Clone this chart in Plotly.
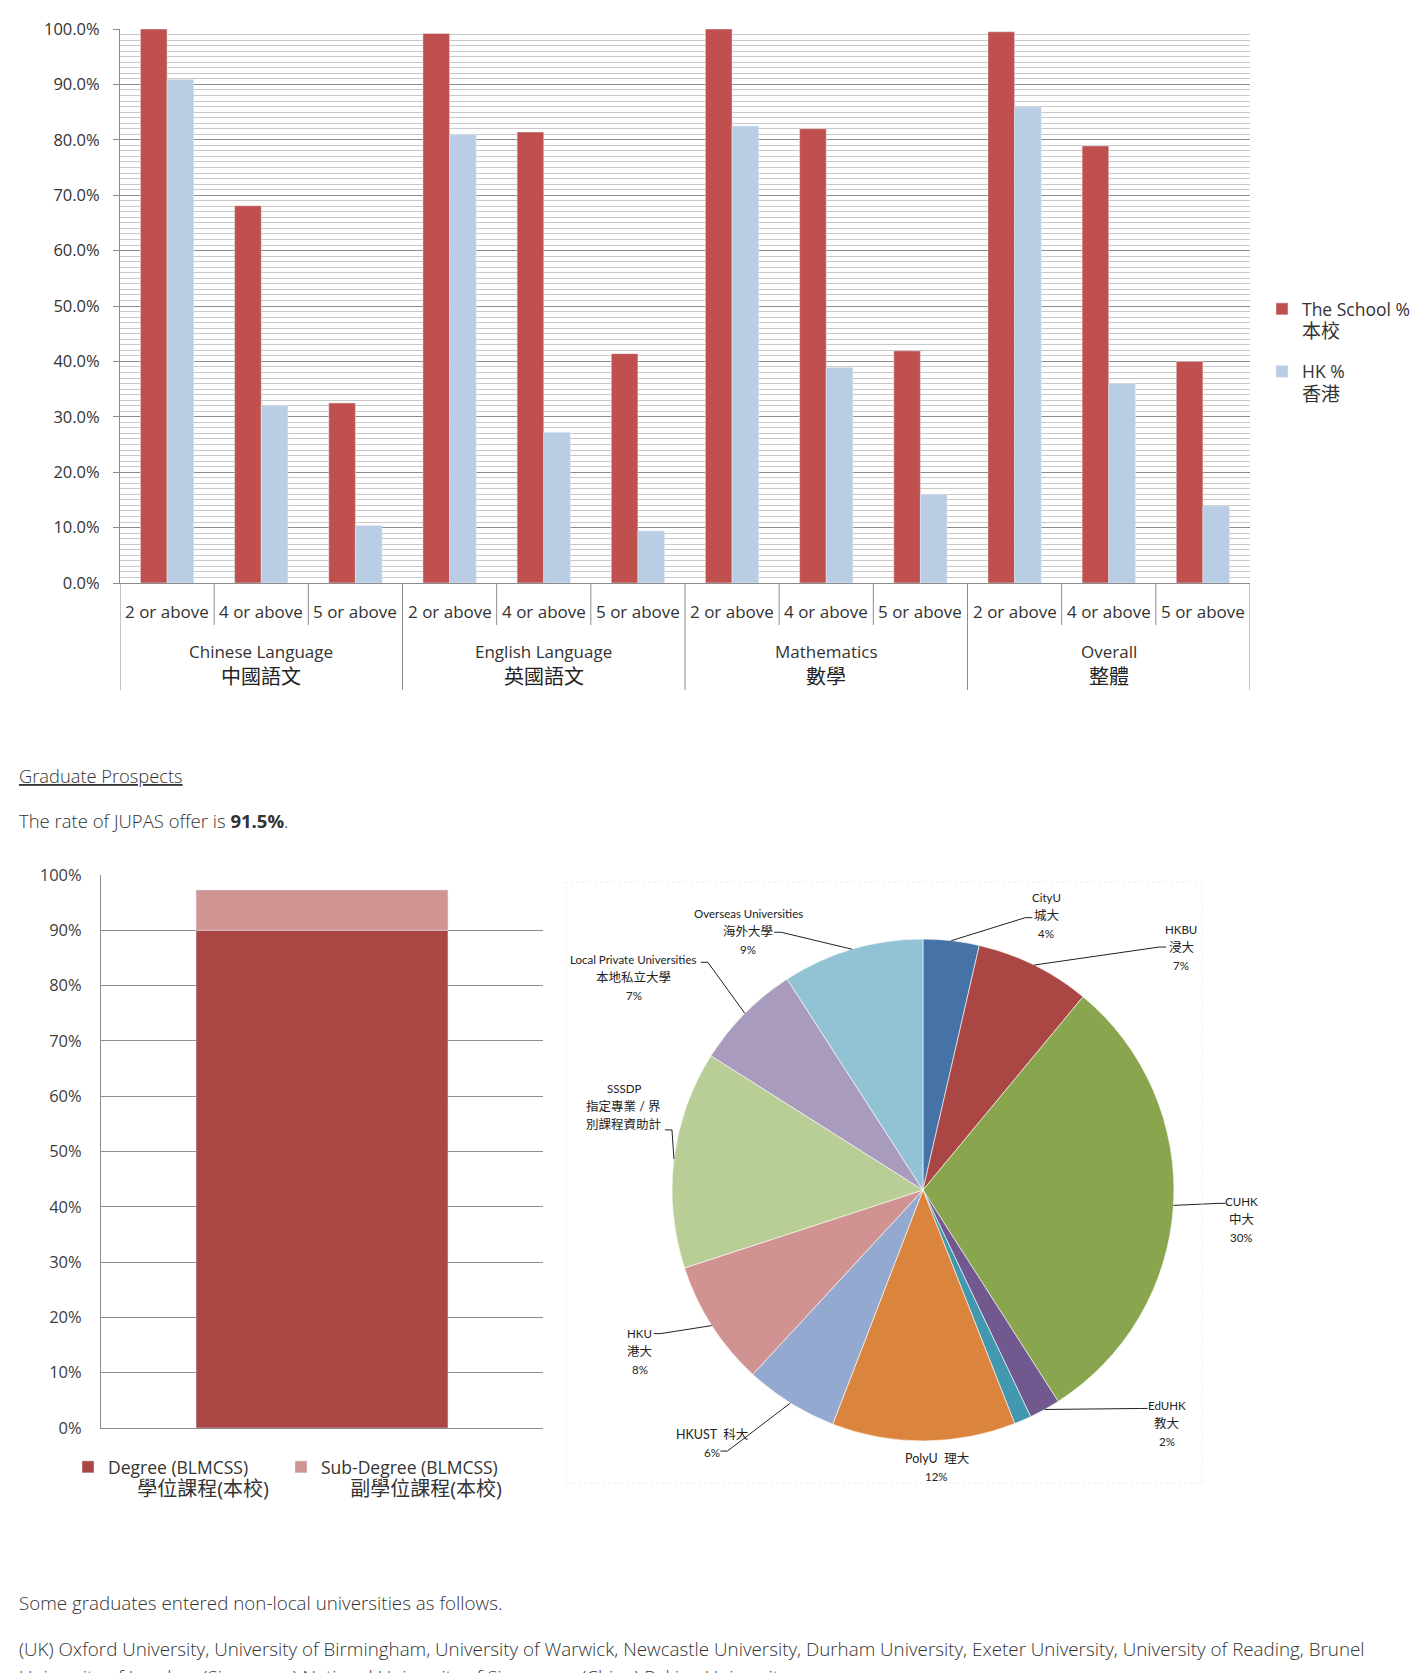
import math
import plotly.graph_objects as go

W, H = 1424, 1673

# HKDSE results (percent)
groups = ["Chinese Language", "English Language", "Mathematics", "Overall"]
groups_zh = ["中國語文", "英國語文", "數學", "整體"]
levels = ["2 or above", "4 or above", "5 or above"]
school_pct = [100.0, 68.1, 32.5, 99.2, 81.4, 41.4, 100.0, 82.0, 41.9, 99.5, 78.9, 40.0]
hk_pct = [90.9, 32.0, 10.4, 80.9, 27.2, 9.4, 82.5, 38.9, 16.0, 85.9, 36.0, 13.9]

# JUPAS offers (percent)
degree_pct = [90.0]
subdegree_pct = [7.3]

# where graduates went (percent share)
uni_en = ["CityU", "HKBU", "CUHK", "EdUHK", "Others", "PolyU", "HKUST", "HKU",
          "SSSDP", "Local Private Universities", "Overseas Universities"]
uni_zh = ["城大", "浸大", "中大", "教大", "", "理大", "科大", "港大",
          "指定專業 / 界|別課程資助計", "本地私立大學", "海外大學"]
uni_share = [3.6, 7.4, 29.9, 2.0, 1.1, 11.8, 6.0, 8.1, 14.0, 6.9, 9.1]

# colours
red, lightblue = "#C0504D", "#B9CDE5"
deg_red, deg_pink = "#AA4643", "#D09493"
uni_colors = ["#4572A7", "#AA4643", "#89A54E", "#71588F", "#4198AF", "#DB843D",
              "#93A9CF", "#D19392", "#B9CD96", "#A99BBD", "#92C3D5"]

FONT = "Open Sans, Noto Sans CJK TC"
CJK = "Noto Sans CJK TC"
TXT = "#333333"
GRID = "#8C8C8C"


def py(px):
    # page pixel (from top) -> paper y
    return 1 - px / H


fig = go.Figure()

# ---------- top chart: grouped bars ----------
n = len(school_pct)
xs = list(range(n))
bw = 0.283
fig.add_trace(go.Bar(
    x=xs, y=school_pct, width=bw, offset=-bw, marker_color=red,
    name='The School %<br><span style="font-size:19px">本校</span>',
    legendgroup="a", xaxis="x", yaxis="y"))
fig.add_trace(go.Bar(
    x=xs, y=hk_pct, width=bw, offset=0, marker_color=lightblue,
    name='HK %<br><span style="font-size:19px">香港</span>',
    legendgroup="b", xaxis="x", yaxis="y"))

# ---------- bottom-left chart: stacked bar ----------
fig.add_trace(go.Bar(
    x=[0], y=degree_pct, width=0.57, marker_color=deg_red,
    name='Degree (BLMCSS)<br>\u3000\u2002\u2009<span style="font-size:20px">學位課程(本校)</span>',
    legend="legend2", xaxis="x2", yaxis="y2"))
fig.add_trace(go.Bar(
    x=[0], y=subdegree_pct, base=degree_pct, width=0.57, marker_color=deg_pink,
    name='Sub-Degree (BLMCSS)<br>\u3000\u2002\u2009<span style="font-size:20px">副學位課程(本校)</span>',
    legend="legend3", xaxis="x2", yaxis="y2"))

# ---------- pie ----------
pie_dx = [0.4719, 0.8244]
pie_dy = [0.1387, 0.4387]
fig.add_trace(go.Pie(
    labels=uni_en, values=uni_share, sort=False, direction="clockwise",
    marker=dict(colors=uni_colors, line=dict(color="white", width=0.6)),
    textinfo="none", showlegend=False, domain=dict(x=pie_dx, y=pie_dy)))

top = dict(x=[120 / W, 1250 / W], y=[py(583), py(29)])
bot = dict(x=[101 / W, 543 / W], y=[py(1428), py(875)])

bottom_legend = dict(yanchor="top", xanchor="left", y=py(1449),
                     font=dict(size=17.5, color=TXT), valign="top",
                     bgcolor="rgba(0,0,0,0)")

fig.update_layout(
    width=W, height=H, margin=dict(l=0, r=0, t=0, b=0, autoexpand=False),
    paper_bgcolor="white", plot_bgcolor="white",
    barmode="overlay", font=dict(family=FONT, color=TXT),
    xaxis=dict(domain=top["x"], range=[-0.5, n - 0.5], showticklabels=False,
               showgrid=False, zeroline=False, showline=True, linecolor=GRID,
               fixedrange=True, automargin=False),
    yaxis=dict(domain=top["y"], range=[0, 100], dtick=10, tickformat=".1f",
               ticksuffix="%", showgrid=True, gridcolor=GRID, gridwidth=1,
               minor=dict(dtick=1, showgrid=True, gridcolor="#C8C8C8", gridwidth=1.3),
               showline=True, linecolor=GRID, ticks="outside", ticklen=6,
               tickcolor=GRID, ticklabelstandoff=10, zeroline=False,
               tickfont=dict(size=16.5, color=TXT), fixedrange=True,
               automargin=False),
    xaxis2=dict(domain=bot["x"], anchor="y2", range=[-0.5, 0.5],
                showticklabels=False, showgrid=False, zeroline=False,
                showline=True, linecolor=GRID, fixedrange=True, automargin=False),
    yaxis2=dict(domain=bot["y"], anchor="x2", range=[0, 100], dtick=10,
                ticksuffix="%", showgrid=True, gridcolor=GRID, gridwidth=1,
                showline=True, linecolor=GRID, zeroline=False,
                ticklabelstandoff=15, tickfont=dict(size=16.5, color="#404040"),
                fixedrange=True, automargin=False),
    legend=dict(x=1262 / W, y=py(291), xanchor="left", yanchor="top",
                font=dict(size=17.5, color=TXT), traceorder="grouped",
                tracegroupgap=14, valign="top", bgcolor="rgba(0,0,0,0)"),
    legend2=dict(bottom_legend, x=68 / W),
    legend3=dict(bottom_legend, x=281 / W),
)

shapes = []
annotations = []


def note(xp, yp, text, size, family=FONT, color=TXT, xanchor="center", weight=None):
    f = dict(family=family, size=size, color=color)
    if weight:
        f["weight"] = weight
    annotations.append(dict(x=xp / W, y=py(yp), xref="paper", yref="paper",
                            xanchor=xanchor, yanchor="middle", text=text,
                            showarrow=False, font=f))


# category axis labels and separators for the top chart
for i in range(n + 1):
    edge = i - 0.5
    is_group = i % len(levels) == 0
    shapes.append(dict(type="line", xref="x", yref="paper", x0=edge, x1=edge,
                       y0=py(583), y1=py(690 if is_group else 625),
                       line=dict(color=GRID, width=1)))
for i in range(n):
    annotations.append(dict(x=i, y=py(611), xref="x", yref="paper", yanchor="middle",
                            text=levels[i % len(levels)], showarrow=False,
                            font=dict(size=17, color=TXT)))
for g, (en, zh) in enumerate(zip(groups, groups_zh)):
    gx = g * len(levels) + 1
    annotations.append(dict(x=gx, y=py(651), xref="x", yref="paper", yanchor="middle",
                            text=en, showarrow=False, font=dict(size=17, color=TXT)))
    annotations.append(dict(x=gx, y=py(675), xref="x", yref="paper", yanchor="middle",
                            text=zh, showarrow=False,
                            font=dict(family=CJK, size=20, color="#222")))

# pie labels with leader lines
# offsets (px) from the slice's edge point: line end, label-block centre
label_pos = {
    "CityU": ((81, -23), (95, -25)),
    "HKBU": ((132, -18), (147, -18)),
    "CUHK": ((52, -2), (68, 14)),
    "EdUHK": ((103, -1), (122, 14)),
    "PolyU": (None, (13, 27)),
    "HKUST": ((-70, 48), (-78, 40)),
    "HKU": ((-58, 8), (-72, 26)),
    "SSSDP": ((-9, -29), (-50, -52)),
    "Local Private Universities": ((-44, -51), (-111, -36)),
    "Overseas Universities": ((-78, -17), (-104, -18)),
}
cxp = (pie_dx[0] + pie_dx[1]) / 2 * W
cyp = (1 - (pie_dy[0] + pie_dy[1]) / 2) * H
rad = min((pie_dx[1] - pie_dx[0]) * W, (pie_dy[1] - pie_dy[0]) * H) / 2
total = sum(uni_share)
cum = 0.0
for en, zh, v in zip(uni_en, uni_zh, uni_share):
    ang = (cum + v / 2) / total * 2 * math.pi
    cum += v
    if en not in label_pos:
        continue
    end, mid = label_pos[en]
    ex = cxp + rad * math.sin(ang)
    ey = cyp - rad * math.cos(ang)
    if en in ("PolyU", "HKUST"):
        lines = [f"{en}  {zh}", f"{round(v)}%"]
    elif en == "SSSDP":
        lines = [en] + zh.split("|")
    else:
        lines = [en, zh, f"{round(v)}%"]
    if end is not None:
        lx, ly = ex + end[0], ey + end[1]
        elbow = lx - (7 if end[0] > 0 else -7)
        shapes.append(dict(type="path", xref="paper", yref="paper",
                           path=f"M{ex / W},{py(ey)} L{elbow / W},{py(ly)} L{lx / W},{py(ly)}",
                           line=dict(color="#222", width=1)))
    for k, line in enumerate(lines):
        yk = ey + mid[1] + (k - (len(lines) - 1) / 2) * 18
        size = 11.5 if line.isascii() else 12.5
        note(ex + mid[0], yk, line, size, family="Lato, Noto Sans CJK TC", color="#222")

# faint chart-area border around the pie
shapes.append(dict(type="rect", xref="paper", yref="paper", x0=566 / W, x1=1202 / W,
                   y0=py(1483), y1=py(882),
                   line=dict(color="#EEEEEE", width=1, dash="dot")))

# page text
note(17, 775, '<span style="text-decoration:underline">Graduate Prospects</span>',
     18.3, family="Open Sans", xanchor="left", weight=300)
note(17, 820, "The rate of JUPAS offer is <b>91.5%</b>.", 18.5, family="Open Sans",
     xanchor="left", weight=300)
note(17, 1603, "Some graduates entered non-local universities as follows.", 18.8,
     family="Open Sans", xanchor="left", weight=300)
note(17, 1649, "(UK) Oxford University, University of Birmingham, University of Warwick, "
     "Newcastle University, Durham University, Exeter University, "
     "University of Reading, Brunel", 18.8, family="Open Sans", xanchor="left", weight=300)
note(17, 1677, "University of London, (Singapore) National University of Singapore, "
     "(China) Peking University, ...", 18.8, family="Open Sans", xanchor="left",
     weight=300)

fig.update_layout(shapes=shapes, annotations=annotations)
fig.write_html("out.html", config={"displayModeBar": False},
               post_script="document.body.style.margin='0px';")
